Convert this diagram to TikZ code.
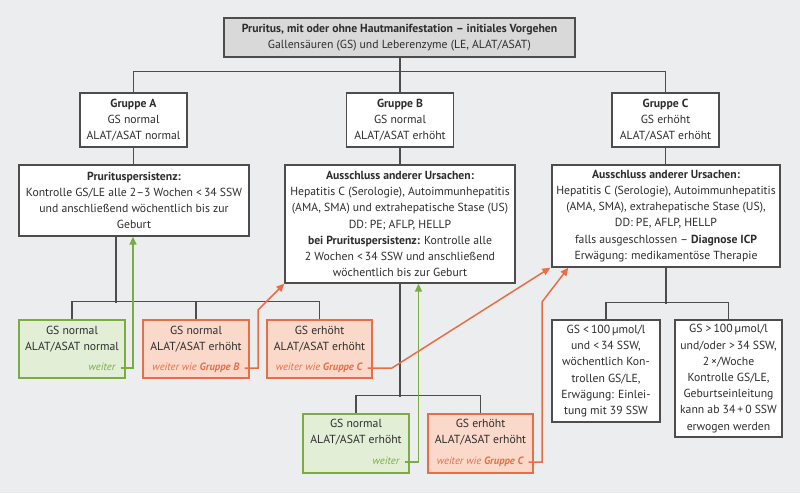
\documentclass[tikz,border=0pt]{standalone}
\usepackage{fontspec}
\setmainfont{PT Sans}
\usetikzlibrary{arrows.meta}
\definecolor{bg}{RGB}{236,237,238}
\definecolor{topfill}{RGB}{217,217,217}
\definecolor{ln}{RGB}{77,77,77}
\definecolor{txt}{RGB}{45,45,45}
\definecolor{grn}{RGB}{122,172,66}
\definecolor{grnfill}{RGB}{226,239,214}
\definecolor{org}{RGB}{232,110,72}
\definecolor{orgfill}{RGB}{250,217,202}
\begin{document}
\begin{tikzpicture}[x=1pt,y=-1pt,
  every node/.style={font=\fontsize{11.7}{16.2}\selectfont, text=txt, inner sep=0pt, align=center},
  box/.style={draw=ln, line width=1.3pt, fill=white},
  topbox/.style={draw=ln, line width=1.3pt, fill=topfill},
  gbox/.style={draw=grn, line width=1.3pt, fill=grnfill},
  obox/.style={draw=org, line width=1.3pt, fill=orgfill},
  conn/.style={draw=ln, line width=1.5pt},
  garr/.style={draw=grn, line width=1.5pt, -{Triangle[length=8pt,width=7pt]}},
  oarr/.style={draw=org, line width=1.5pt, -{Triangle[length=8pt,width=7pt]}},
  gw/.style={text=grn, font=\fontsize{10.6}{14}\selectfont\itshape, anchor=mid east},
  ow/.style={text=org, font=\fontsize{10.6}{14}\selectfont\itshape, anchor=mid east},
]
\useasboundingbox (0,0) rectangle (800,493);
\fill[bg] (0,0) rectangle (800,493);

% top
\node[topbox, minimum width=351pt, minimum height=39pt] (top) at (399.5,37.5)
  {\textbf{Pruritus, mit oder ohne Hautmanifestation – initiales Vorgehen}\\Gallensäuren (GS) und Leberenzyme (LE, ALAT/ASAT)};

% groups
\node[box, minimum width=107pt, minimum height=54pt] (gA) at (133.5,120) {\textbf{Gruppe A}\\GS normal\\ALAT/ASAT normal};
\node[box, minimum width=107pt, minimum height=54pt] (gB) at (400,120) {\textbf{Gruppe B}\\GS normal\\ALAT/ASAT erhöht};
\node[box, minimum width=107pt, minimum height=54pt] (gC) at (665.5,120) {\textbf{Gruppe C}\\GS erhöht\\ALAT/ASAT erhöht};

% second row
\node[box, minimum width=230pt, minimum height=71pt] (pA) at (134,200.5)
  {\textbf{Prurituspersistenz:}\\Kontrolle GS/LE alle 2–3 Wochen <\,34 SSW\\und anschließend wöchentlich bis zur\\Geburt};
\node[box, minimum width=230pt, minimum height=118pt] (pB) at (400,224)
  {\textbf{Ausschluss anderer Ursachen:}\\Hepatitis C (Serologie), Autoimmunhepatitis\\(AMA, SMA) und extrahepatische Stase (US)\\DD: PE; AFLP, HELLP\\\textbf{bei Prurituspersistenz:} Kontrolle alle\\2 Wochen <\,34 SSW und anschließend\\wöchentlich bis zur Geburt};
\node[box, minimum width=228pt, minimum height=102pt] (pC) at (666,216)
  {\textbf{Ausschluss anderer Ursachen:}\\Hepatitis C (Serologie), Autoimmunhepatitis\\(AMA, SMA), extrahepatische Stase (US),\\DD: PE, AFLP, HELLP\\falls ausgeschlossen – \textbf{Diagnose ICP}\\Erwägung: medikamentöse Therapie};

% row 1 small boxes
\node[gbox, minimum width=106pt, minimum height=58pt] (g1) at (72,349) {};
\node (g1t) at (72,339) {GS normal\\ALAT/ASAT normal};
\node[gw] (wg1) at (115.5,368) {weiter};
\node[obox, minimum width=106pt, minimum height=58pt] (o1) at (196,349) {};
\node (o1t) at (196,339) {GS normal\\ALAT/ASAT erhöht};
\node[ow] (wo1) at (239.5,368) {weiter wie \textbf{Gruppe B}};
\node[obox, minimum width=105pt, minimum height=58pt] (o2) at (319.5,349) {};
\node (o2t) at (319.5,339) {GS erhöht\\ALAT/ASAT erhöht};
\node[ow] (wo2) at (362.5,368) {weiter wie \textbf{Gruppe C}};

% row 2 small boxes
\node[gbox, minimum width=106pt, minimum height=59pt] (g2) at (356,443.5) {};
\node (g2t) at (356,432.5) {GS normal\\ALAT/ASAT erhöht};
\node[gw] (wg2) at (399.5,462) {weiter};
\node[obox, minimum width=105pt, minimum height=59pt] (o3) at (480.5,443.5) {};
\node (o3t) at (480.5,432.5) {GS erhöht\\ALAT/ASAT erhöht};
\node[ow] (wo3) at (523.5,462) {weiter wie \textbf{Gruppe C}};

% C results
\node[box, minimum width=108pt, minimum height=102pt] (c1) at (606,371)
  {GS <\,100\,µmol/l\\und <\,34 SSW,\\wöchentlich Kon-\\trollen GS/LE,\\Erwägung: Einlei-\\tung mit 39 SSW};
\node[box, minimum width=107pt, minimum height=117pt] (c2) at (728.5,378.5)
  {GS >\,100\,µmol/l\\und/oder >\,34 SSW,\\2\,×/Woche\\Kontrolle GS/LE,\\Geburtseinleitung\\kann ab 34\,+\,0 SSW\\erwogen werden};

% gray connectors
\draw[conn] (gB.north) -- (gB.north |- top.south);
\draw[conn] (gA.north) -- ++(0,-21) -| (gC.north);
\draw[conn] (gA.south) -- (gA.south |- pA.north);
\draw[conn] (gB.south) -- (gB.south |- pB.north);
\draw[conn] (gC.south) -- (gC.south |- pC.north);
\draw[conn] ([xshift=-18pt]pA.south) -- ++(0,66);
\draw[conn] (g1.north) -- ++(0,-18) -| (o2.north);
\draw[conn] (o1.north) -- ++(0,-18);
\draw[conn] (pB.south) -- ++(0,113);
\draw[conn] (g2.north) -- ++(0,-18) -| (o3.north);
\draw[conn] (pC.south) -- ++(0,36);
\draw[conn] (c1.north) -- ++(0,-17) -| (c2.north);

% colored arrows
\draw[garr] ([xshift=5pt]wg1.mid east) -| ([xshift=-1pt]pA.south);
\draw[garr] ([xshift=5pt]wg2.mid east) -| ([xshift=18.5pt]pB.south);
\draw[oarr] ([xshift=5pt]wo1.mid east) -- ++(13.5,0) -- ++(0,-58) -- (pB.south west);
\draw[oarr] ([xshift=5pt]wo2.mid east) -- ++(24.5,0) -- ([xshift=-1pt]pC.south west);
\draw[oarr] ([xshift=5pt]wo3.mid east) -- ++(13.5,0) -- ++(0,-160) -- ([xshift=17pt]pC.south west);
\end{tikzpicture}
\end{document}
